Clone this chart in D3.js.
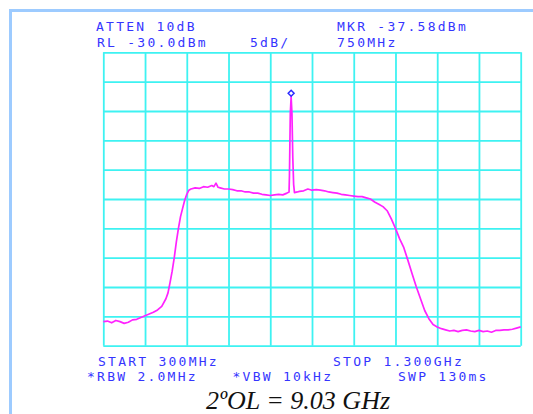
<!DOCTYPE html>
<html><head><meta charset="utf-8">
<script src="https://cdn.jsdelivr.net/npm/d3@7"></script>
<style>html,body{margin:0;padding:0;background:#fff;overflow:hidden}</style>
</head><body>
<script>
// ---- data ----
const freqMHz = [300,310,320,330,340,350,360,370,380,390,400,410,420,430,440,450,455,460,465,470,475,480,485,490,495,500,505,510,520,530,540,550,560,565,570,575,580,590,600,610,620,630,640,650,660,670,680,690,700,710,720,730,740,745,746,748,750,752,754,756,758,765,770,780,790,800,810,820,830,840,850,860,870,880,890,900,910,920,930,940,950,960,970,980,990,1000,1010,1020,1030,1040,1050,1060,1070,1080,1090,1100,1110,1120,1130,1140,1150,1160,1170,1180,1190,1200,1210,1220,1230,1240,1250,1260,1270,1280,1290,1300];
const levelDBm = [-75.9,-75.8,-76.1,-75.7,-75.9,-76.2,-76.0,-75.6,-75.5,-75.2,-74.9,-74.6,-74.3,-73.9,-73.3,-72.0,-71.0,-69.2,-67.3,-65.0,-62.3,-60.0,-58.0,-56.6,-55.2,-54.2,-53.5,-53.3,-53.1,-53.2,-52.9,-53.0,-52.7,-52.9,-52.3,-53.0,-53.1,-53.3,-53.3,-53.4,-53.6,-53.6,-53.8,-53.8,-54.0,-54.0,-54.2,-54.3,-54.4,-54.3,-54.2,-54.3,-54.0,-53.8,-51.0,-40.5,-37.58,-40.5,-48.0,-52.5,-53.9,-53.8,-53.7,-53.6,-53.3,-53.5,-53.4,-53.5,-53.6,-53.8,-53.9,-54.0,-54.2,-54.3,-54.4,-54.5,-54.6,-54.6,-54.8,-55.0,-55.5,-55.9,-56.3,-57.0,-58.4,-60.0,-61.8,-63.3,-65.5,-67.8,-70.0,-72.0,-74.0,-75.4,-76.4,-76.8,-77.1,-77.3,-77.5,-77.4,-77.6,-77.4,-77.3,-77.5,-77.6,-77.4,-77.6,-77.5,-77.7,-77.4,-77.4,-77.3,-77.3,-77.2,-77.0,-76.8];
const freqTicks = [300,400,500,600,700,800,900,1000,1100,1200,1300];
const levelTicks = [-80,-75,-70,-65,-60,-55,-50,-45,-40,-35,-30];
const marker = {freq: 750, level: -37.58};
const headerLines = [
  {text:"ATTEN 10dB", x:96, y:30.5},
  {text:"MKR -37.58dBm", x:337, y:30.5},
  {text:"RL -30.0dBm", x:97, y:47},
  {text:"5dB/", x:250, y:47},
  {text:"750MHz", x:337, y:47},
  {text:"START 300MHz", x:98, y:365.5},
  {text:"STOP 1.300GHz", x:333, y:365.5},
  {text:"*RBW 2.0MHz", x:87, y:380.5},
  {text:"*VBW 10kHz", x:232.5, y:380.5},
  {text:"SWP 130ms", x:398, y:380.5}
];
const caption = "2ºOL = 9.03 GHz";

// ---- drawing ----
const W = 533, H = 414;
const svg = d3.select("body").append("svg").attr("width", W).attr("height", H);

// outer frame
svg.append("path").attr("d", `M10.5,${H} L10.5,10.5 L${W},10.5`)
  .attr("fill","none").attr("stroke","#9dcbff").attr("stroke-width",3);

const x = d3.scaleLinear().domain([300,1300]).range([103.3,520.7]);
const y = d3.scaleLinear().domain([-80,-30]).range([345.7,52.3]);

const gridColor = "#3ef2f2";
svg.append("g").attr("transform",`translate(0,${y(-80)})`)
  .call(d3.axisBottom(x).tickValues(freqTicks).tickSize(-(y(-80)-y(-30))).tickFormat(""))
  .call(g=>{g.select(".domain").remove(); g.selectAll("line").attr("stroke",gridColor).attr("stroke-width",1.8);});
svg.append("g").attr("transform",`translate(${x(300)},0)`)
  .call(d3.axisLeft(y).tickValues(levelTicks).tickSize(-(x(1300)-x(300))).tickFormat(""))
  .call(g=>{g.select(".domain").remove(); g.selectAll("line").attr("stroke",gridColor).attr("stroke-width",1.8);});

// trace
const data = freqMHz.map((f,i)=>({f, v: levelDBm[i]}));
svg.append("path").datum(data)
  .attr("fill","none").attr("stroke","#ff22ff").attr("stroke-width",1.7)
  .attr("stroke-linejoin","round")
  .attr("d", d3.line().x(d=>x(d.f)).y(d=>y(d.v)));

// marker diamond
const mx = x(marker.freq), my = y(marker.level) - 3.5;
svg.append("path").attr("d", d3.symbol(d3.symbolDiamond2, 22)())
  .attr("transform",`translate(${mx},${my})`)
  .attr("fill","none").attr("stroke","#2a2aff").attr("stroke-width",1.5);

// instrument annotations
svg.append("g").selectAll("text").data(headerLines).join("text")
  .attr("x",d=>d.x).attr("y",d=>d.y).text(d=>d.text)
  .attr("font-family","'DejaVu Sans Mono', 'Liberation Mono', monospace")
  .attr("font-size",13).attr("letter-spacing","2.25px").attr("fill","#3535ff");

// caption
svg.append("text").attr("x",206).attr("y",408.5).text(caption)
  .attr("font-family","'Liberation Serif', 'Times New Roman', serif")
  .attr("font-style","italic").attr("font-size",26).attr("fill","#111");
</script>
</body></html>
